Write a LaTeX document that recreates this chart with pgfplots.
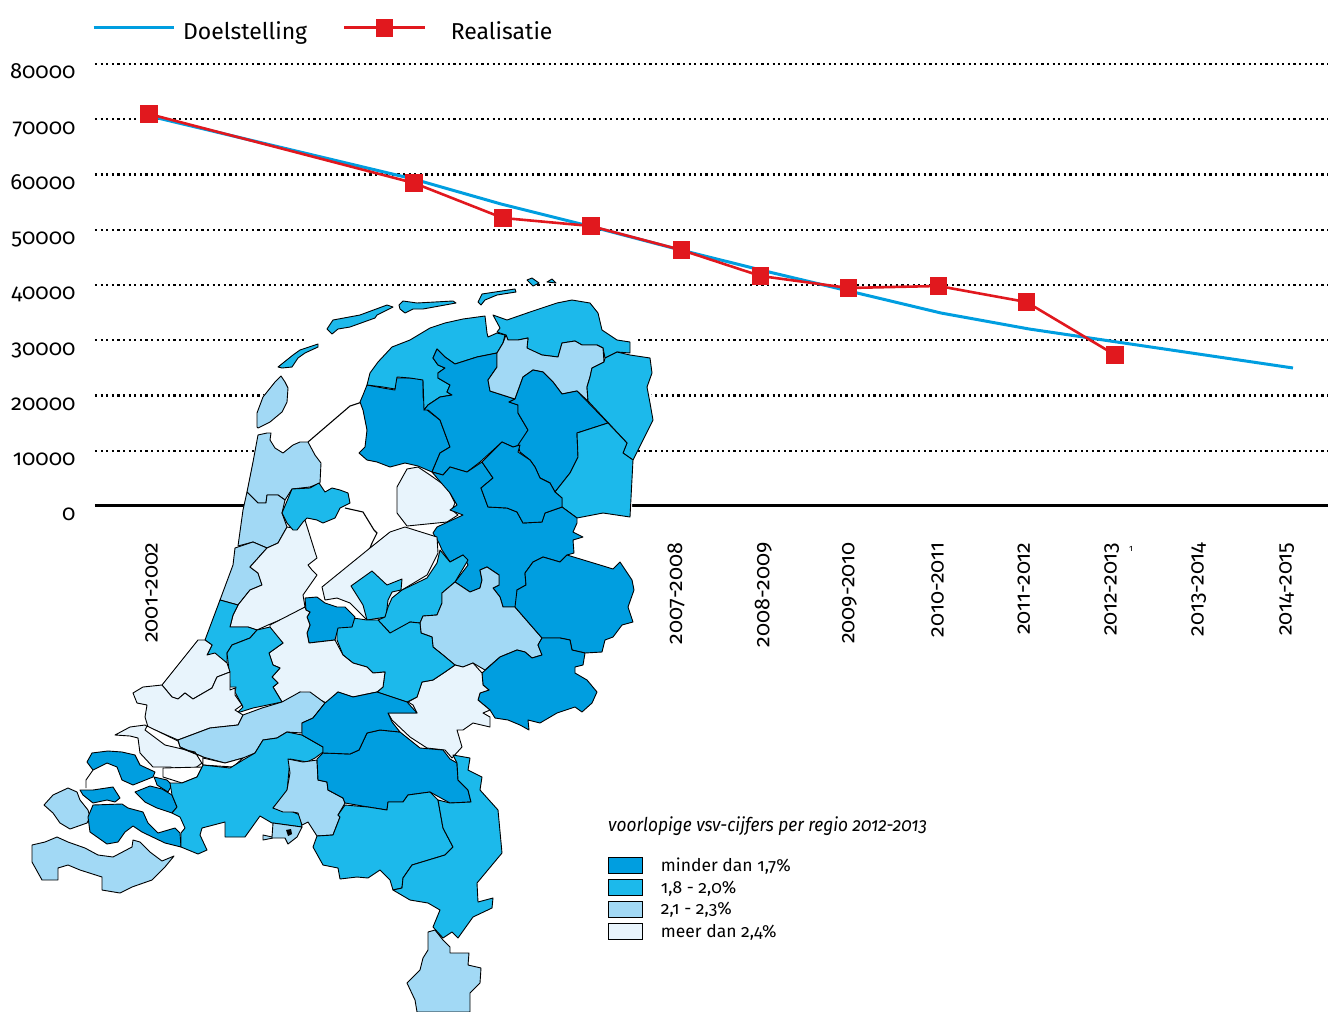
\documentclass[border=0pt]{standalone}
\usepackage{fontspec}
\usepackage{pgfplots}
\pgfplotsset{compat=1.18}
\setmainfont[Numbers=OldStyle]{Fira Sans}
\definecolor{dk}{HTML}{009EE0}
\definecolor{md}{HTML}{1CB9EB}
\definecolor{lt}{HTML}{A2D9F5}
\definecolor{vl}{HTML}{E8F4FC}
\definecolor{lineblue}{HTML}{009EE0}
\definecolor{linered}{HTML}{E1181E}
\newcommand{\reg}[2]{\addplot[forget plot,fill=#1,draw=black,line width=0.9pt,line join=round] coordinates {#2} -- cycle;}
\begin{document}
\begin{tikzpicture}[x=1pt,y=1pt]
\path[use as bounding box] (0,0) rectangle (1328,1012);
\begin{axis}[
  at={(95pt,506pt)},anchor=south west,
  scale only axis,width=1233pt,height=442pt,
  xmin=-0.614,xmax=13.398,ymin=0,ymax=80000,
  clip=false,
  axis line style={draw=none},
  ytick={0,10000,20000,30000,40000,50000,60000,70000,80000},
  scaled y ticks=false,
  extra y ticks={0},
  extra y tick labels={},
  extra y tick style={grid style={black,solid,line width=3pt}},
  ymajorgrids,
  grid style={black,line width=2.4pt,dash pattern=on 2.2pt off 3.4pt},
  major tick length=0pt,
  xtick={0.03,1.03,2.02,3.01,4,5,5.99,6.98,7.96,8.96,9.94,10.94,11.93,12.93},
  xticklabels={2001-2002,2002-2003,2003-2004,2004-2005,2005-2006,2006-2007,2007-2008,2008-2009,2009-2010,2010-2011,2011-2012,2012-2013,2013-2014,2014-2015},
  x tick label style={yshift=-33pt,rotate=90,anchor=east,font=\fontsize{21.5}{22}\selectfont},
  y tick label style={font=\fontsize{22}{24}\selectfont,anchor=base east,xshift=-16pt,yshift=-15pt},
  /pgf/number format/assume math mode=true,
  /pgf/number format/fixed,
  /pgf/number format/precision=0,
  /pgf/number format/1000 sep={},
  legend columns=2,
  legend cell align=left,
  legend style={draw=none,fill=none,at={(-0.0024,1.075)},anchor=west,inner sep=0pt,outer sep=0pt,
    font=\fontsize{23}{26}\selectfont,nodes={inner xsep=8pt,inner ysep=0pt},
    /tikz/column 2/.style={column sep=28pt}},
  legend image code/.code={%
    \draw[#1,mark=none] (0pt,4pt) -- (80pt,4pt);
    \path[#1,draw=none,only marks] plot coordinates {(40pt,4pt)};
  },
]
\addplot[lineblue,line width=3pt] coordinates {(0,70600)(3,59200)(4,54660)(5,50680)(6,46500)(7,42530)(8,38730)(9,34930)(10,32040)(11,29680)(12,27330)(13,24980)};
\addlegendentry{Doelstelling}
\addplot[linered,line width=2.6pt,mark=square*,mark size=7.5pt,mark options={fill=linered,draw=none,solid}] coordinates {(0,70950)(3.01,58460)(4.02,52130)(5.02,50680)(6.05,46330)(6.95,41630)(7.95,39460)(8.97,39820)(9.97,36920)(10.98,27330)};
\addlegendentry{\hspace*{17pt}Realisatie}
\end{axis}
\begin{axis}[
  at={(0pt,0pt)},anchor=south west,
  scale only axis,width=1328pt,height=1012pt,
  xmin=0,xmax=1328,ymin=0,ymax=1012,y dir=reverse,
  hide axis,clip=false,
  legend cell align=left,
  legend style={draw=none,fill=none,at={(axis cs:608,857)},anchor=north west,inner sep=0pt,outer sep=0pt,
    font=\fontsize{17.5}{20}\selectfont,row sep=4.6pt,nodes={inner xsep=18pt,inner ysep=0pt}},
  legend image code/.code={\draw[#1] (0pt,-8.2pt) rectangle (34pt,8.2pt);},
]
% white ground of the map (covers grid and labels)
\addplot[forget plot,fill=white,draw=none] coordinates {(312,330)(632,330)(652,396)(632,451)(632,520)(640,642)(212,642)(235,520)(243,510)(257,451)(263,396)} -- cycle;
% islands
\reg{md}{(278,367)(293,355)(300,350)(318,344)(318,347)(305,353)(298,358)(292,367)(282,368)}
\reg{md}{(327,329)(333,320)(360,315)(387,305)(393,307)(377,315)(375,318)(350,327)(338,329)(332,334)}
\reg{md}{(399,305)(403,301)(417,303)(453,301)(456,303)(423,309)(413,309)(405,313)(400,309)}
\reg{md}{(478,302)(482,294)(515,289)(516,292)(497,295)(485,300)(481,305)}
\reg{md}{(527,280)(532,278)(539,283)(533,286)}
\reg{md}{(547,282)(552,279)(556,283)}
\reg{lt}{(257,427)(257,413)(263,397)(275,382)(281,376)(285,382)(288,388)(287,402)(282,412)(270,422)(258,428)}
% dike and lake shores
\addplot[forget plot,black,line width=1.1pt] coordinates {(308,442)(350,406)(362,402)};
\addplot[forget plot,black,line width=1.1pt] coordinates {(345,508)(363,512)(374,530)(377,533)(372,543)(370,548)};
% north
\reg{vl}{(397,487)(407,469)(418,467)(430,475)(447,487)(455,503)(452,510)(458,515)(447,522)(407,526)(397,513)}
\reg{dk}{(367,385)(383,388)(395,390)(395,378)(410,378)(423,379)(423,397)(427,410)(440,420)(450,447)(440,453)(432,472)(418,466)(405,463)(390,467)(377,462)(367,460)(359,453)(365,447)(367,430)(363,410)(360,402)(363,395)}
\reg{md}{(367,385)(370,373)(378,362)(392,347)(410,340)(430,328)(445,323)(463,319)(485,316)(487,333)(488,337)(497,333)(505,335)(503,343)(497,353)(477,357)(455,364)(445,357)(437,349)(433,358)(438,365)(445,368)(438,373)(438,378)(450,385)(447,392)(452,395)(440,397)(428,405)(424,410)(423,380)(410,378)(397,377)(395,389)(383,387)}
\reg{dk}{(437,349)(445,357)(455,364)(477,357)(497,353)(497,367)(488,380)(490,391)(515,399)(509,402)(518,405)(518,413)(528,430)(520,445)(513,447)(502,442)(480,462)(467,472)(460,470)(450,467)(443,475)(432,472)(440,453)(450,447)(440,420)(428,410)(424,410)(428,405)(440,397)(452,395)(447,392)(450,385)(438,378)(438,373)(445,368)(438,365)(433,358)}
\reg{md}{(493,315)(507,320)(530,312)(557,303)(572,300)(590,303)(598,313)(602,330)(617,340)(630,342)(630,353)(617,352)(605,358)(603,348)(597,345)(582,345)(575,341)(562,343)(558,357)(542,355)(530,350)(527,348)(528,338)(518,340)(508,340)(506,335)(497,332)(500,328)}
\reg{lt}{(506,335)(508,340)(518,340)(528,338)(527,348)(542,355)(558,357)(562,343)(575,341)(582,345)(597,345)(603,348)(604,362)(592,368)(590,377)(587,387)(588,401)(577,391)(562,394)(553,382)(543,372)(533,370)(523,377)(515,399)(490,391)(488,380)(497,367)(497,353)(503,343)}
\reg{md}{(605,358)(617,352)(630,355)(650,358)(652,373)(647,387)(650,403)(653,420)(633,460)(623,453)(627,443)(588,401)(587,387)(590,377)(592,368)(604,362)}
\reg{dk}{(515,399)(523,377)(533,370)(543,372)(553,382)(562,394)(577,391)(608,423)(577,433)(578,457)(570,473)(555,492)(550,483)(540,478)(535,467)(530,460)(520,452)(518,445)(528,430)(518,413)(518,405)(509,402)}
\reg{md}{(608,423)(627,443)(623,453)(633,460)(630,517)(603,513)(577,518)(562,507)(562,498)(555,492)(570,473)(578,457)(577,433)}
\reg{dk}{(432,472)(443,475)(450,467)(460,470)(467,472)(482,462)(493,478)(481,488)(488,507)(507,508)(517,512)(523,523)(542,522)(545,513)(562,507)(577,518)(577,523)(573,532)(583,537)(573,540)(574,553)(567,555)(560,562)(543,557)(533,562)(525,573)(526,585)(517,590)(518,605)(515,607)(503,607)(500,597)(493,588)(499,585)(499,575)(487,567)(480,570)(482,580)(480,588)(470,592)(455,582)(468,565)(463,555)(450,562)(442,550)(439,543)(433,533)(437,527)(463,515)(450,510)(457,505)(450,493)(437,478)}
\reg{dk}{(502,442)(513,447)(520,445)(518,452)(530,460)(535,467)(540,478)(550,483)(555,492)(562,498)(562,507)(545,513)(542,522)(523,523)(517,512)(507,508)(488,507)(481,488)(493,478)(482,462)}
% west
\reg{lt}{(258,435)(267,433)(271,433)(270,440)(275,448)(283,453)(293,445)(300,442)(308,442)(315,455)(321,463)(320,483)(310,487)(292,489)(285,500)(278,495)(267,495)(266,503)(258,503)(247,492)(253,462)}
\reg{lt}{(247,492)(258,503)(266,503)(267,495)(278,495)(285,500)(282,513)(287,527)(278,543)(267,548)(253,542)(238,546)(243,510)}
\reg{lt}{(267,548)(250,567)(258,573)(262,585)(250,590)(238,605)(220,600)(233,565)(235,548)(253,542)}
\reg{vl}{(287,527)(278,543)(267,548)(250,567)(258,573)(262,585)(250,590)(238,605)(233,615)(230,627)(248,627)(257,630)(268,625)(280,620)(290,617)(305,607)(303,595)(310,585)(317,575)(312,570)(308,565)(317,558)(315,552)(305,520)(293,528)}
\reg{md}{(282,513)(292,489)(310,488)(319,483)(325,492)(332,488)(340,490)(348,493)(350,503)(340,508)(335,518)(323,523)(317,520)(307,518)(303,522)(297,530)(293,530)(287,523)}
% Flevoland
\reg{vl}{(370,548)(322,587)(325,600)(337,598)(350,603)(367,620)(385,617)(392,600)(402,590)(427,575)(438,553)(437,537)(405,527)(390,532)}
\reg{md}{(351,586)(372,571)(387,585)(402,579)(401,590)(392,592)(388,600)(386,617)(367,620)(363,605)}
% middle
\reg{md}{(440,550)(450,562)(463,555)(468,560)(455,582)(442,593)(442,603)(437,615)(423,616)(420,623)(410,622)(400,632)(390,633)(378,620)(385,617)(388,607)(392,598)(402,590)(427,578)(437,563)}
\reg{lt}{(480,570)(487,567)(499,575)(499,585)(493,588)(500,597)(503,607)(515,607)(542,638)(538,645)(542,655)(532,658)(525,652)(517,650)(500,657)(485,670)(473,663)(463,667)(455,665)(443,655)(433,647)(432,637)(421,633)(420,623)(423,616)(437,615)(442,603)(442,593)(455,582)(470,592)(480,588)(482,580)}
\reg{dk}{(515,607)(517,590)(526,585)(525,573)(533,562)(543,557)(560,562)(567,555)(600,565)(613,569)(620,562)(632,580)(634,590)(628,607)(633,622)(622,625)(613,637)(605,640)(602,652)(585,653)(572,650)(570,640)(560,638)(542,638)}
\reg{dk}{(542,638)(560,638)(570,640)(572,650)(585,653)(583,665)(575,667)(575,673)(587,680)(597,692)(592,703)(582,712)(575,707)(557,713)(540,723)(528,720)(529,730)(520,725)(508,720)(495,718)(490,710)(478,700)(480,693)(489,690)(483,685)(482,673)(500,657)(517,650)(525,652)(532,658)(542,655)(538,645)}
\reg{vl}{(482,673)(483,685)(489,690)(480,693)(478,700)(490,710)(483,713)(490,717)(490,727)(473,723)(463,730)(457,730)(462,747)(452,758)(445,750)(427,748)(410,737)(392,720)(388,713)(417,713)(413,705)(408,702)(417,697)(422,682)(433,680)(445,672)(455,665)(463,667)(473,663)}
\reg{md}{(337,628)(353,618)(367,620)(378,620)(390,633)(410,622)(420,623)(421,633)(432,637)(433,647)(443,655)(455,665)(445,672)(433,680)(422,682)(417,697)(407,702)(377,692)(383,687)(385,672)(373,673)(367,667)(353,663)(343,655)(337,640)}
\reg{dk}{(305,598)(317,597)(325,603)(337,607)(345,607)(355,617)(352,627)(338,628)(335,640)(309,643)(307,633)(310,625)(307,617)(310,612)(306,610)}
\reg{vl}{(270,625)(305,607)(306,610)(310,612)(307,617)(310,625)(307,633)(309,643)(335,640)(343,655)(353,663)(367,667)(373,673)(385,672)(383,687)(377,692)(353,697)(338,692)(327,703)(300,692)(290,700)(282,702)(273,687)(278,683)(272,677)(280,668)(273,665)(269,653)(283,643)(270,633)}
% Zuid-Holland
\reg{md}{(220,600)(238,605)(233,615)(230,627)(248,627)(257,630)(250,638)(232,645)(227,653)(227,663)(215,655)(207,655)(212,645)(205,640)}
\reg{md}{(270,627)(283,643)(269,653)(273,665)(280,668)(272,677)(278,683)(273,687)(282,702)(253,708)(237,713)(243,707)(235,692)(236,687)(230,687)(229,670)(227,653)(232,645)(250,638)(257,630)}
\reg{vl}{(162,685)(198,640)(205,640)(212,645)(207,655)(215,653)(227,663)(230,672)(217,677)(212,688)(193,699)(185,693)(178,699)(172,697)}
\reg{vl}{(133,693)(143,687)(162,685)(172,697)(178,699)(185,693)(193,699)(212,688)(217,677)(230,672)(230,690)(235,688)(235,695)(242,705)(235,710)(243,715)(238,725)(210,728)(178,740)(148,727)(145,717)(147,705)(137,703)}
\reg{lt}{(178,740)(210,728)(238,725)(243,715)(262,708)(282,702)(300,692)(310,692)(325,703)(313,718)(302,723)(302,733)(287,732)(277,738)(263,740)(255,753)(243,758)(225,763)(203,757)(180,747)}
\reg{vl}{(115,735)(130,727)(145,725)(148,727)(178,747)(203,757)(202,763)(190,772)(170,767)(153,767)(140,753)(138,738)(130,736)}
\reg{white}{(147,726)(178,741)(180,747)(203,757)(203,765)(195,752)(165,745)(145,730)}
\reg{white}{(163,768)(202,767)(197,777)(182,783)(163,777)}
\reg{white}{(203,758)(225,763)(243,758)(233,767)(203,765)}
% Zeeland
\reg{dk}{(87,762)(92,753)(108,751)(122,752)(135,755)(140,765)(155,772)(153,777)(133,785)(122,780)(117,767)(107,763)(93,770)}
\addplot[forget plot,black,line width=0.9pt] coordinates {(93,770)(86,780)(86,788)};
\reg{dk}{(154,777)(167,780)(172,785)(168,792)(157,785)(156,782)}
\reg{dk}{(80,790)(93,790)(113,787)(120,798)(115,802)(107,800)(93,803)(83,795)}
\reg{dk}{(135,792)(150,786)(162,789)(172,795)(177,807)(172,813)(157,808)(145,802)}
\reg{lt}{(44,805)(53,795)(68,788)(77,792)(80,800)(88,810)(90,817)(87,823)(70,829)(60,823)(53,813)}
\reg{dk}{(93,805)(122,804)(128,808)(143,812)(148,823)(158,833)(175,828)(180,833)(181,847)(165,843)(142,832)(133,826)(125,832)(118,842)(107,844)(90,832)(88,817)}
\reg{lt}{(32,845)(45,842)(57,837)(68,842)(85,848)(98,855)(113,857)(132,847)(133,840)(140,842)(150,852)(162,861)(174,856)(165,867)(152,880)(132,887)(120,893)(102,890)(102,877)(80,870)(68,865)(58,868)(58,880)(42,880)(32,862)}
% Brabant
\reg{md}{(170,783)(182,783)(197,777)(203,765)(230,768)(243,760)(255,753)(263,740)(277,738)(287,732)(302,735)(323,747)(323,752)(315,758)(307,762)(290,759)(287,792)(273,808)(293,812)(300,815)(302,827)(272,823)(260,816)(245,837)(225,837)(225,822)(202,828)(200,835)(207,850)(198,854)(181,847)(181,833)(185,828)(180,817)(172,813)(177,807)(172,795)}
\reg{lt}{(288,759)(303,762)(317,760)(318,780)(327,782)(328,790)(343,798)(345,803)(338,815)(340,817)(333,835)(317,836)(308,822)(302,825)(298,813)(293,812)(283,812)(273,808)(287,790)(290,773)}
\reg{lt}{(273,823)(302,827)(297,837)(288,844)(285,838)(273,838)(263,840)(263,835)(272,837)}
\addplot[forget plot,fill=black,draw=none] coordinates {(286,830)(291,829)(292,834)(288,836)} -- cycle;
\reg{dk}{(317,759)(323,753)(350,754)(359,750)(367,733)(380,730)(400,732)(420,748)(443,750)(450,759)(457,763)(458,780)(468,790)(471,802)(450,803)(430,792)(408,795)(403,802)(388,802)(387,810)(368,807)(345,803)(343,798)(328,790)(327,782)(318,780)}
\reg{dk}{(325,703)(338,692)(353,697)(377,692)(407,702)(417,713)(388,713)(392,722)(400,732)(380,730)(367,733)(359,750)(350,754)(323,753)(323,747)(302,735)(302,723)(313,718)}
\reg{md}{(345,805)(368,807)(387,810)(388,802)(403,802)(408,795)(430,792)(438,800)(443,828)(453,847)(445,855)(412,865)(403,878)(402,888)(393,890)(390,880)(380,870)(368,878)(357,877)(340,879)(338,868)(323,865)(313,847)(317,836)(333,835)(340,817)(338,815)}
\reg{md}{(453,755)(470,758)(468,770)(482,777)(480,790)(498,810)(502,853)(477,883)(478,902)(493,898)(492,908)(473,917)(458,938)(452,932)(443,938)(433,927)(440,910)(428,903)(410,900)(393,890)(402,888)(403,878)(412,865)(445,855)(453,847)(443,828)(438,800)(450,803)(471,802)(468,790)(458,780)(457,763)}
\reg{lt}{(428,932)(435,930)(443,940)(450,947)(450,953)(469,953)(468,965)(481,968)(480,983)(470,993)(470,1012)(417,1012)(415,1000)(407,983)(420,970)(423,958)(428,950)}
% map legend
\addlegendimage{fill=dk,draw=black,line width=0.9pt}
\addlegendentry{minder dan 1,7\%}
\addlegendimage{fill=md,draw=black,line width=0.9pt}
\addlegendentry{1,8 - 2,0\%}
\addlegendimage{fill=lt,draw=black,line width=0.9pt}
\addlegendentry{2,1 - 2,3\%}
\addlegendimage{fill=vl,draw=black,line width=0.9pt}
\addlegendentry{meer dan 2,4\%}
\node[anchor=west,inner sep=0pt,font=\fontsize{19}{22}\itshape] at (axis cs:608,826) {\addfontfeature{FakeStretch=0.91}voorlopige vsv-cijfers per regio 2012-2013};
\node[anchor=center,inner sep=0pt,font=\fontsize{9}{10}\selectfont] at (axis cs:1131,549) {1};
\end{axis}
\end{tikzpicture}
\end{document}
